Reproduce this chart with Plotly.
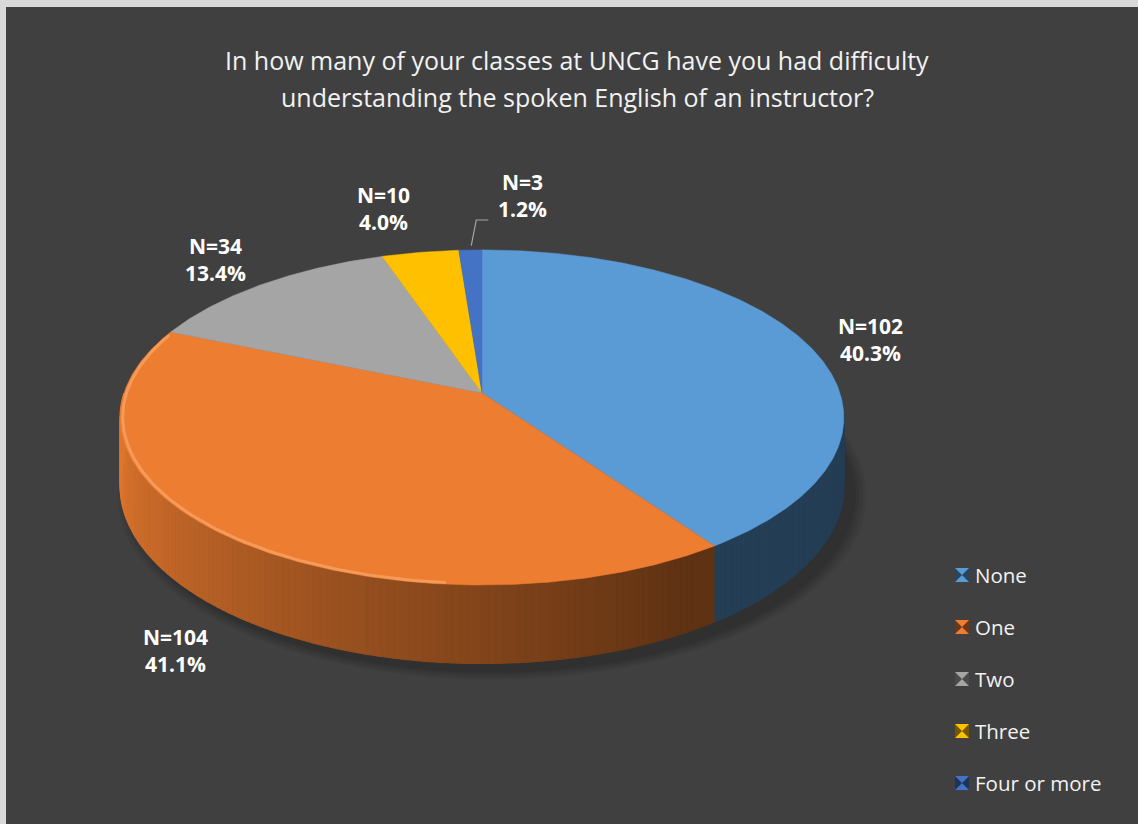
import numpy as np
import plotly.graph_objects as go

# Survey answers: number of classes with difficulty understanding an instructor
CATEGORIES = ["None", "One", "Two", "Three", "Four or more"]
COUNTS = [102, 104, 34, 10, 3]
COLORS = ["#5B9BD5", "#ED7D31", "#A5A5A5", "#FFC000", "#4472C4"]

TITLE_LINES = [
    "In how many of your classes at UNCG have you had difficulty",
    "understanding the spoken English of an instructor?",
]

# ---- canvas / pie geometry (pixel space) ----
W, H = 1138, 824
CX, CY = 482, 393          # apex of the slices
A, B = 358, 164            # horizontal / vertical radius of the top face
K = 0.146                  # perspective strength
DEPTH = 67                 # thickness of the pie

# label offsets from the rim point at each slice's mid angle
LABEL_OFFSETS = [(61, -6), (-52, 114), (-47, -25), (-37, -44), (52, -54)]


def proj(phi, r=1.0, drop=0.0):
    ph = np.radians(phi)
    s = 1.0 / (1.0 + K * r * np.cos(ph))
    x = CX + A * r * np.sin(ph) * s
    y = CY - B * r * np.cos(ph) * s + DEPTH * s * drop
    return x, y


def hex_rgb(c):
    c = c.lstrip("#")
    return tuple(int(c[i:i + 2], 16) for i in (0, 2, 4))


def shade(c, f):
    r, g, b = hex_rgb(c)
    return "rgb(%d,%d,%d)" % (min(255, r * f), min(255, g * f), min(255, b * f))


def side_factor(phi):
    return 0.40 + 0.55 * float(np.clip((phi - 150.0) / 110.0, 0.0, 1.0))


total = float(sum(COUNTS))
shares = [v / total for v in COUNTS]
bounds = np.concatenate([[0.0], np.cumsum(shares) * 360.0])

fig = go.Figure()


def poly(xs, ys, color, opacity=1.0, lw=0.6):
    fig.add_trace(go.Scatter(
        x=list(xs), y=list(ys), mode="lines", fill="toself",
        fillcolor=color, line=dict(color=color, width=lw),
        opacity=opacity, hoverinfo="skip", showlegend=False))


# soft drop shadow, cast down and to the right of the pie
full = np.linspace(0, 360, 361)
for grow in [1.035, 1.025, 1.015, 1.006]:
    bx, by = proj(full, 1.0, 1.0)
    bx = CX + (bx - CX) * grow + 10
    by = CY + 40 + (by - CY - 40) * grow + 8
    poly(bx, by, "rgba(0,0,0,1)", opacity=0.06, lw=0)

# side wall (front half only), drawn as thin strips for smooth shading
for i in range(len(COUNTS)):
    a0, a1 = max(bounds[i], 90.0), min(bounds[i + 1], 270.0)
    if a1 <= a0:
        continue
    edges = np.arange(a0, a1, 1.0)
    edges = np.append(edges, a1)
    for e0, e1 in zip(edges[:-1], edges[1:]):
        arc = np.linspace(e0, e1, 3)
        tx, ty = proj(arc, 1.0, 0.0)
        bx, by = proj(arc[::-1], 1.0, 1.0)
        col = shade(COLORS[i], side_factor(0.5 * (e0 + e1)))
        poly(np.concatenate([tx, bx]), np.concatenate([ty, by]), col, lw=1.2)

# top face slices
for i in range(len(COUNTS)):
    n = max(4, int((bounds[i + 1] - bounds[i]) / 0.5))
    arc = np.linspace(bounds[i], bounds[i + 1], n)
    ax_, ay_ = proj(arc)
    xs = np.concatenate([[CX], ax_, [CX]])
    ys = np.concatenate([[CY], ay_, [CY]])
    poly(xs, ys, COLORS[i], lw=0.5)

# bevel highlight along the front-left rim of the top face
rim = np.linspace(185, 292, 120)
rx, ry = proj(rim, 0.993)
fig.add_trace(go.Scatter(x=rx, y=ry, mode="lines",
                         line=dict(color="rgba(255,190,140,0.45)", width=3),
                         hoverinfo="skip", showlegend=False))

annotations = []
shapes = [dict(type="rect", xref="x", yref="y", x0=6, y0=7, x1=W + 2, y1=H + 2,
               fillcolor="#404040", line=dict(width=0), layer="below")]

# data labels
for i, v in enumerate(COUNTS):
    mid = 0.5 * (bounds[i] + bounds[i + 1])
    px, py = proj(mid)
    dx, dy = LABEL_OFFSETS[i]
    lx, ly = px + dx, py + dy
    annotations.append(dict(
        x=lx, y=ly, xref="x", yref="y", showarrow=False,
        text="<b>N=%d<br>%.1f%%</b>" % (v, 100 * v / total),
        font=dict(family="Open Sans", size=21, color="#FFFFFF"),
        align="center"))
    if i == len(COUNTS) - 1:
        sx, sy = proj(mid, 1.01)
        fig.add_trace(go.Scatter(
            x=[sx + 1, sx + 6, lx - 34], y=[sy - 3, ly + 24, ly + 24],
            mode="lines", line=dict(color="#A6A6A6", width=1.2),
            hoverinfo="skip", showlegend=False))

# title
for j, line in enumerate(TITLE_LINES):
    annotations.append(dict(
        x=577, y=60 + 37 * j, xref="x", yref="y", showarrow=False,
        text=line, font=dict(family="Open Sans", size=25, color="#F2F2F2")))

# legend: bevelled square swatch + label
LEG_X, LEG_Y0, LEG_DY = 962, 575, 52
leg_y = [LEG_Y0 + LEG_DY * i for i in range(len(CATEGORIES))]
fig.add_trace(go.Scatter(
    x=[LEG_X] * len(CATEGORIES), y=leg_y, mode="markers",
    marker=dict(symbol="square", size=14, color=COLORS, line=dict(width=0)),
    hoverinfo="skip", showlegend=False))
fig.add_trace(go.Scatter(
    x=[LEG_X] * len(CATEGORIES), y=leg_y, mode="markers",
    marker=dict(symbol="bowtie", size=14,
                color=[shade(c, 0.45) for c in COLORS], line=dict(width=0)),
    hoverinfo="skip", showlegend=False))
for name, y in zip(CATEGORIES, leg_y):
    annotations.append(dict(
        x=LEG_X + 11, y=y, xref="x", yref="y", showarrow=False,
        xanchor="left", text=name,
        font=dict(family="Open Sans", size=20.5, color="#F2F2F2")))

fig.update_layout(
    width=W, height=H, margin=dict(l=0, r=0, t=0, b=0),
    paper_bgcolor="#D9D9D9", plot_bgcolor="rgba(0,0,0,0)",
    xaxis=dict(range=[0, W], visible=False, fixedrange=True),
    yaxis=dict(range=[H, 0], visible=False, fixedrange=True),
    annotations=annotations, shapes=shapes, showlegend=False,
)

fig.write_html("out.html")
